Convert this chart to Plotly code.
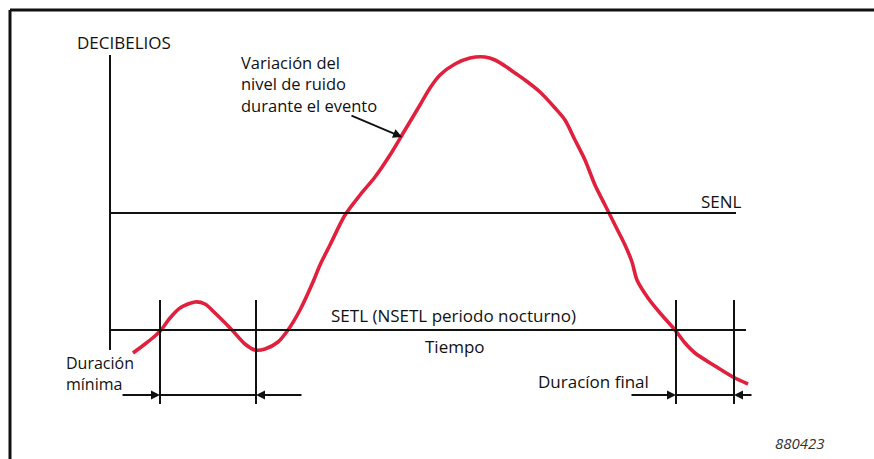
import plotly.graph_objects as go

W, H = 874, 459

# Noise level curve (time units, level units)
time = [133, 145, 155, 161, 170, 180, 195, 205, 215, 232, 245, 255, 265, 278, 288, 300, 313,
        320, 330, 345, 360, 375, 390, 405, 420, 430, 440, 455, 470, 485, 495, 505, 515, 525,
        540, 555, 565, 575, 585, 595, 605, 615, 625, 632, 637, 648, 660, 675, 685, 695, 715,
        733, 748]
noise_px = [353, 344, 336, 330, 318, 308, 302, 304, 313, 330, 344, 350, 349, 342, 330, 310, 282,
            265, 245, 215, 195, 177, 155, 130, 105, 88, 75, 64, 58, 57, 60, 66, 73, 80,
            92, 108, 120, 140, 160, 185, 205, 225, 245, 262, 280, 298, 313, 330, 343, 353, 366,
            377, 384]
level = [H - v for v in noise_px]

# Threshold levels
senl_level = H - 213
setl_level = H - 330
# Time markers
min_dur_marks = [160, 256]
final_dur_marks = [676, 734]

FONT = "Open Sans"
BLACK = "#111111"
RED = "#e0203c"

fig = go.Figure()
fig.add_trace(go.Scatter(x=time, y=level, mode="lines", line=dict(color=RED, width=3.6, shape="spline", smoothing=0.8),
                         hoverinfo="skip", showlegend=False))

shapes = []
def seg(x0, y0, x1, y1, w=2.0):
    shapes.append(dict(type="line", xref="x", yref="y", x0=x0, y0=y0, x1=x1, y1=y1,
                       line=dict(color=BLACK, width=w)))

# frame
seg(10, H - 10, W + 5, H - 10, 3)
seg(10, H - 10, 10, -5, 3)
# vertical decibel axis
seg(110, H - 55, 110, H - 350)
# SENL and SETL
seg(110, senl_level, 736, senl_level)
seg(110, setl_level, 746, setl_level)
# markers
for xm in min_dur_marks + final_dur_marks:
    seg(xm, H - 300, xm, H - 404)
arrow_y = H - 395
seg(min_dur_marks[0], arrow_y, min_dur_marks[1], arrow_y)
seg(final_dur_marks[0], arrow_y, final_dur_marks[1], arrow_y)

annotations = []
def arrow(x, y, ax, ay):
    annotations.append(dict(x=x, y=y, ax=ax, ay=ay, xref="x", yref="y", axref="x", ayref="y",
                            text="", showarrow=True, arrowhead=2, arrowsize=1, arrowwidth=1.8,
                            arrowcolor=BLACK, standoff=0))
arrow(min_dur_marks[0], arrow_y, 121, arrow_y)
arrow(min_dur_marks[1], arrow_y, 303, arrow_y)
arrow(final_dur_marks[0], arrow_y, 630, arrow_y)
arrow(final_dur_marks[1], arrow_y, 753, arrow_y)
arrow(402, H - 137, 350, H - 115)

def text(x, y, s, anchor="left", size=17, color=BLACK, italic=False):
    annotations.append(dict(x=x, y=H - y, xref="x", yref="y", text=s, showarrow=False,
                            xanchor=anchor, yanchor="middle", align=anchor,
                            font=dict(family=FONT, size=size, color=color,
                                      style="italic" if italic else "normal")))

text(75, 42, "DECIBELIOS")
text(239, 84, "Variación del<br>nivel de ruido<br>durante el evento", size=16.5)
text(744, 201, "SENL", anchor="right")
text(453, 315, "SETL (NSETL periodo nocturno)", anchor="center")
text(455, 346, "Tiempo", anchor="center")
text(64, 373, "Duración<br>mínima", size=16)
text(536, 381, "Duracíon final")
text(827, 443, "880423", anchor="right", size=15, color="#333333", italic=True)

fig.update_layout(
    width=W, height=H, margin=dict(l=0, r=0, t=0, b=0),
    paper_bgcolor="white", plot_bgcolor="white",
    xaxis=dict(range=[0, W], visible=False, fixedrange=True),
    yaxis=dict(range=[0, H], visible=False, fixedrange=True),
    shapes=shapes, annotations=annotations, showlegend=False,
)
fig.write_html("out.html", config={"displayModeBar": False},
               post_script="document.body.style.margin='0';document.body.style.overflow='hidden';")
